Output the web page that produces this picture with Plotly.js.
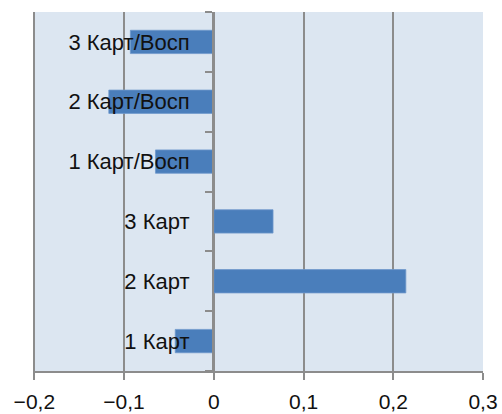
<!DOCTYPE html>
<html>
<head>
<meta charset="utf-8">
<script src="https://cdn.plot.ly/plotly-3.0.1.min.js"></script>
<style>html,body{margin:0;padding:0;background:#fff;}#chart{width:502px;height:414px;}</style>
</head>
<body>
<div id="chart"></div>
<script>
const categories = ["1 Карт", "2 Карт", "3 Карт", "1 Карт/Восп", "2 Карт/Восп", "3 Карт/Восп"];
const values = [-0.043, 0.214, 0.066, -0.065, -0.117, -0.093];
const xTickVals = [-0.2, -0.1, 0, 0.1, 0.2, 0.3];

const gridColor = "#8c8c8c";
const trace = {
  type: "bar",
  orientation: "h",
  y: categories,
  x: values,
  marker: {color: "#4a7ebb", line: {color: "#6f98cc", width: 0.8}},
  hoverinfo: "skip"
};
const layout = {
  width: 502, height: 414,
  margin: {l: 33, r: 19, t: 12, b: 43},
  paper_bgcolor: "#ffffff",
  plot_bgcolor: "#dce6f1",
  separators: ", ",
  showlegend: false,
  bargap: 0.61,
  font: {family: "Liberation Sans, Arial, sans-serif", size: 21, color: "#111111"},
  xaxis: {
    range: [-0.2015, 0.3],
    tickvals: xTickVals,
    tickformat: ".1~f",
    showgrid: true, gridcolor: gridColor, gridwidth: 2,
    zeroline: false,
    showline: true, linecolor: gridColor, linewidth: 2,
    ticks: "outside", ticklen: 7, tickcolor: gridColor, tickwidth: 2,
    ticklabelstandoff: 4,
    tickfont: {size: 21, color: "#111111"},
    fixedrange: true
  },
  yaxis: {
    type: "category",
    anchor: "free",
    position: 0.4,
    showgrid: false,
    zeroline: false,
    showline: true, linecolor: gridColor, linewidth: 2,
    ticks: "outside", tickson: "boundaries", ticklen: 7, tickcolor: gridColor, tickwidth: 2,
    ticklabelstandoff: 18,
    tickfont: {size: 22, color: "#111111"},
    fixedrange: true
  }
};
Plotly.newPlot("chart", [trace], layout, {displayModeBar: false, staticPlot: true});
</script>
</body>
</html>
